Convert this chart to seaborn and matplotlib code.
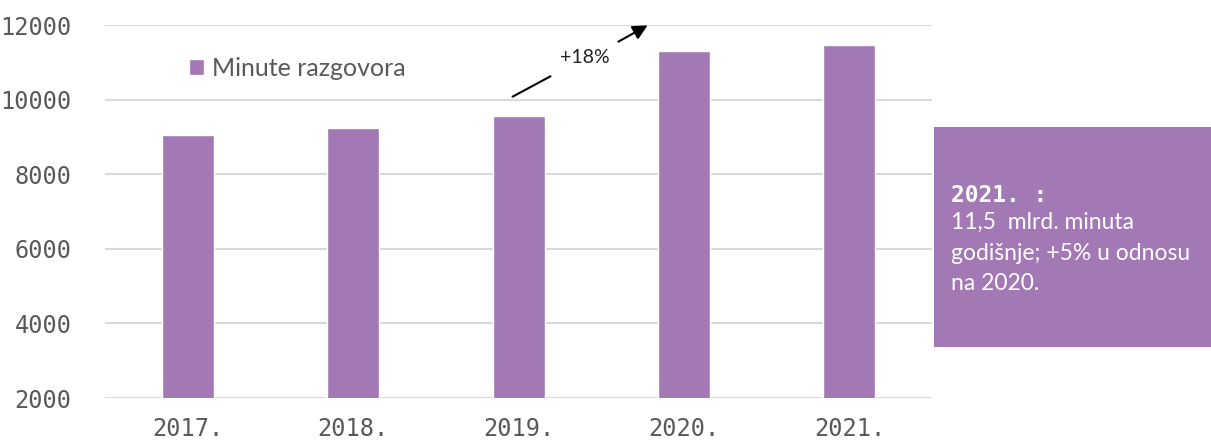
import matplotlib
matplotlib.use("Agg")
import matplotlib.pyplot as plt
import pandas as pd
import seaborn as sns
from matplotlib.patches import Rectangle

# data
years = ['2017.', '2018.', '2019.', '2020.', '2021.']
minutes = [9050, 9240, 9550, 11300, 11460]
y_ticks = [2000, 4000, 6000, 8000, 10000, 12000]
series_label = 'Minute razgovora'

purple = '#A278B5'
grey_txt = '#595959'

df = pd.DataFrame({'year': years, 'minutes': minutes})

sns.set_style('white')
plt.rcParams['font.family'] = ['DejaVu Sans Mono']

fig = plt.figure(figsize=(12.11, 4.41), dpi=100)
ax = fig.add_axes([0.0867, 0.0975, 0.683, 0.8458])

sns.barplot(data=df, x='year', y='minutes', color=purple, saturation=1,
            width=0.314, label=series_label, ax=ax)

ax.set_ylim(2000, 12000)
ax.set_xlim(-0.5, 4.5)
ax.set_yticks(y_ticks)
ax.set_xlabel('')
ax.set_ylabel('')
ax.yaxis.grid(True, color='#d9d9d9', linewidth=1.5)
ax.set_axisbelow(True)
sns.despine(ax=ax, left=True, bottom=True)
ax.tick_params(axis='both', length=0, labelsize=17, labelcolor=grey_txt)
ax.tick_params(axis='y', pad=24)
ax.tick_params(axis='x', pad=14)

ax.legend(loc='center left', bbox_to_anchor=(189 / 1211, 1 - 68 / 441),
          bbox_transform=fig.transFigure, frameon=False, borderpad=0,
          borderaxespad=0, handlelength=0.6, handleheight=0.6,
          handletextpad=0.3, prop={'family': 'Lato', 'size': 18},
          labelcolor=grey_txt)

# growth annotation 2019 -> 2020
ax.annotate('', xy=(2.208, 10660), xytext=(1.949, 10043),
            arrowprops=dict(arrowstyle='-', color='black', lw=1.5),
            annotation_clip=False)
ax.annotate('', xy=(2.795, 12027), xytext=(2.589, 11517),
            arrowprops=dict(arrowstyle='-|>', color='black', lw=1.5,
                            mutation_scale=22),
            annotation_clip=False)
ax.text(2.4, 11140, '+18%', ha='center', va='center', fontsize=14,
        family='Lato', color='#222222')

# side note box
fig.patches.append(Rectangle((934 / 1211, 1 - 347 / 441), 1 - 934 / 1211,
                             220 / 441, transform=fig.transFigure,
                             facecolor=purple, edgecolor='none', zorder=0))
fig.text(951 / 1211, 1 - 196 / 441, '2021. :', color='white', fontsize=16.5,
         fontweight='bold', family='DejaVu Sans Mono', va='center')
note_lines = ['11,5  mlrd. minuta', 'godišnje; +5% u odnosu', 'na 2020.']
for i, line in enumerate(note_lines):
    fig.text(951 / 1211, 1 - (222 + 31 * i) / 441, line, color='white',
             fontsize=16.5, family='Lato', va='center')

fig.savefig('out.png', dpi=100)
